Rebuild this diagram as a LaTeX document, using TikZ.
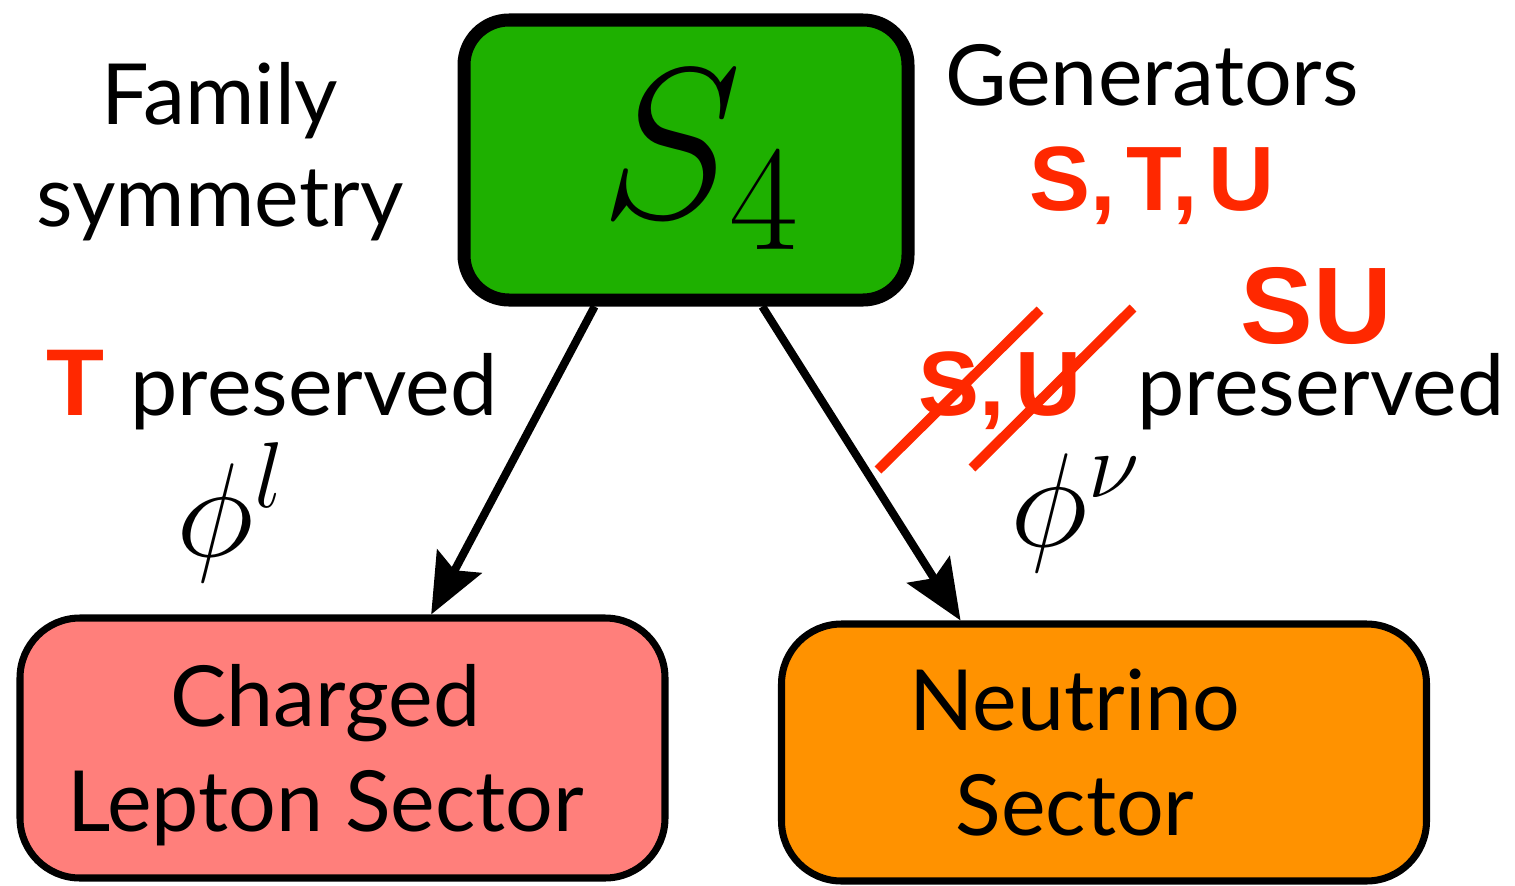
\documentclass[tikz,border=0pt]{standalone}
\usepackage{fix-cm}
\usepackage{fontspec}
\setmainfont{Lato}
\newfontfamily\boldsans{Liberation Sans}
\usetikzlibrary{arrows.meta,calc}

\definecolor{symgreen}{RGB}{30,176,0}
\definecolor{leptonpink}{RGB}{255,127,123}
\definecolor{nuorange}{RGB}{255,146,0}
\definecolor{genred}{RGB}{255,40,0}

\tikzset{
	sectorbox/.style={draw, line width=2pt, rounded corners=0.6cm, minimum width=6.45cm, minimum height=2.6cm, align=center, font=\fontsize{24}{30}\selectfont},
	plain/.style={inner sep=0pt, align=center, font=\fontsize{24}{29}\selectfont},
	gen/.style={inner sep=0pt, text=genred, font=\boldsans\bfseries\fontsize{25}{29}\selectfont},
	field/.style={inner sep=0pt, font=\fontsize{38}{40}\selectfont},
	flow/.style={line width=2.3pt, -{Stealth[length=0.6cm,width=0.5cm,inset=0.1cm]}},
	cut/.style={genred, line width=2.8pt}
}

\begin{document}
\begin{tikzpicture}

				\useasboundingbox (0,0) rectangle (15.15,-8.86);

				% Boxes

				\node[draw, line width=3.7pt, fill=symgreen, rounded corners=0.45cm, minimum width=4.44cm, minimum height=2.8cm, font=\fontsize{61}{61}\selectfont] (s4) at (6.86,-1.6) {\hspace{0.28cm}$S_4$};
				\node[sectorbox, fill=leptonpink, text depth=0pt] (charged) at (3.425,-7.48) {Charged\hspace*{0.34cm}\\Lepton Sector\hspace*{0.34cm}};
				\node[sectorbox, fill=nuorange, minimum height=2.57cm] (neutrino) at (11.04,-7.525) {Neutrino\hspace*{0.58cm}\\Sector\hspace*{0.58cm}};

				% Labels

				\node[plain] (family) at (2.2,-1.52) {Family\\symmetry};
				\node[plain, anchor=base] (generators) at (11.52,-1.05) {Generators};
				\node[gen, anchor=base, font=\boldsans\bfseries\fontsize{26}{30}\selectfont] (stu) at (11.52,-2.1) {S,\kern0.12em T,\kern0.12em U};
				\node[gen, anchor=base, text depth=0pt, font=\boldsans\bfseries\fontsize{31}{35}\selectfont] (su) at (13.16,-3.43) {SU};

				\node[gen, anchor=base, font=\boldsans\bfseries\fontsize{27}{30}\selectfont] (tgen) at (0.75,-4.15) {T};
				\node[plain, anchor=base] (presl) at (3.14,-4.15) {preserved};
				\node[gen, anchor=base, font=\boldsans\bfseries\fontsize{26}{30}\selectfont] (sugen) at (10,-4.15) {S,\kern0.12em U};
				\node[plain, anchor=base] (presn) at (13.21,-4.15) {preserved};

				\node[field, anchor=base west] (phil) at (1.76,-5.56) {$\phi^l$};
				\node[field, anchor=base west] (phinu) at (10.1,-5.46) {$\phi^\nu$};

				% Arrows

				\draw[flow] ($(s4.south west)!0.3!(s4.south east)$) -- ($(charged.north west)!0.636!(charged.north east)$);
				\draw[flow] ($(s4.south west)!0.667!(s4.south east)$) -- ($(neutrino.north west)!0.28!(neutrino.north east)$);

				% Crossed out

				\coordinate (cut1a) at (8.78,-4.7);
				\coordinate (cut1b) at (10.4,-3.1);
				\coordinate (cut2a) at (9.72,-4.68);
				\coordinate (cut2b) at (11.33,-3.08);

				\draw[cut] (cut1a) -- (cut1b);
				\draw[cut] (cut2a) -- (cut2b);

\end{tikzpicture}
\end{document}
